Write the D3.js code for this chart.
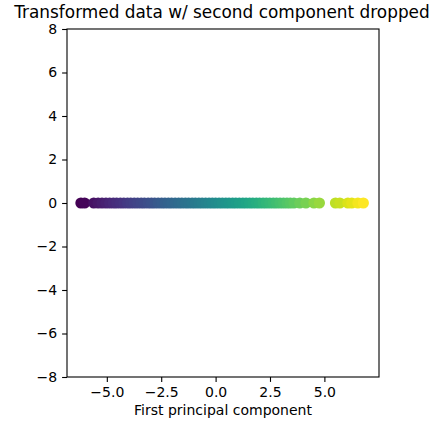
<!DOCTYPE html>
<html><head><meta charset="utf-8">
<script src="https://cdn.jsdelivr.net/npm/d3@7"></script>
<style>body{margin:0;background:#fff}svg{display:block}text{font-family:"DejaVu Sans",sans-serif;fill:#000}</style>
</head><body><svg id="c" width="435" height="425"></svg>
<script>
const title = "Transformed data w/ second component dropped";
const xLabel = "First principal component";
const xTicks = [-5.0, -2.5, 0.0, 2.5, 5.0];
const yTicks = [-8, -6, -4, -2, 0, 2, 4, 6, 8];
// first principal component values (second component dropped -> 0)
const pc1 = [-6.19, -6.02, -5.6, -5.4, -5.22, -5.04, -4.87, -4.7, -4.55, -4.38, -4.22, -4.05,
  -3.9, -3.74, -3.58, -3.42, -3.27, -3.1, -2.95, -2.8, -2.64, -2.48, -2.33, -2.17, -2.02,
  -1.86, -1.7, -1.55, -1.39, -1.24, -1.08, -0.93, -0.77, -0.62, -0.46, -0.3, -0.15, 0.0,
  0.16, 0.31, 0.47, 0.62, 0.78, 0.93, 1.09, 1.25, 1.4, 1.56, 1.71, 1.87, 2.02, 2.18, 2.33,
  2.49, 2.65, 2.8, 2.96, 3.12, 3.28, 3.43, 3.6, 3.87, 4.15, 4.52, 4.77,
  5.51, 5.71, 6.08, 6.26, 6.54, 6.79];
const pc2 = pc1.map(() => 0);

const svg = d3.select("#c");
const L = 67, R = 379, T = 29, B = 377;
const x = d3.scaleLinear().domain([-6.83, 7.51]).range([L, R]);
const y = d3.scaleLinear().domain([-8, 8]).range([B, T]);
const color = d3.scaleSequential(d3.interpolateViridis).domain(d3.extent(pc1));

svg.append("g").selectAll("circle").data(pc1).join("circle")
  .attr("cx", d => x(d)).attr("cy", (d, i) => y(pc2[i])).attr("r", 5.6)
  .attr("fill", d => color(d));

const fmt = d => (d < 0 ? "\u2212" : "") + Math.abs(d).toFixed(1);
const xa = svg.append("g").attr("transform", `translate(0,${B})`)
  .call(d3.axisBottom(x).tickValues(xTicks).tickFormat(fmt).tickSize(4.9).tickPadding(4.9));
const ya = svg.append("g").attr("transform", `translate(${L},0)`)
  .call(d3.axisLeft(y).tickValues(yTicks).tickFormat(d => (d < 0 ? "\u2212" : "") + Math.abs(d)).tickSize(4.9).tickPadding(4.9));
[xa, ya].forEach(a => {
  a.select(".domain").remove();
  a.selectAll("text").attr("font-size", 14).attr("font-family", "DejaVu Sans").attr("fill", "#000");
  a.selectAll("line").attr("stroke", "#000").attr("stroke-width", 1.1);
});
svg.append("rect").attr("x", L).attr("y", T).attr("width", R - L).attr("height", B - T)
  .attr("fill", "none").attr("stroke", "#000").attr("stroke-width", 1.1);

svg.append("text").attr("x", (L + R) / 2 - 1).attr("y", 18).attr("text-anchor", "middle")
  .attr("font-size", 16.9).text(title);
svg.append("text").attr("x", (L + R) / 2).attr("y", 415).attr("text-anchor", "middle")
  .attr("font-size", 14).text(xLabel);
</script></body></html>
